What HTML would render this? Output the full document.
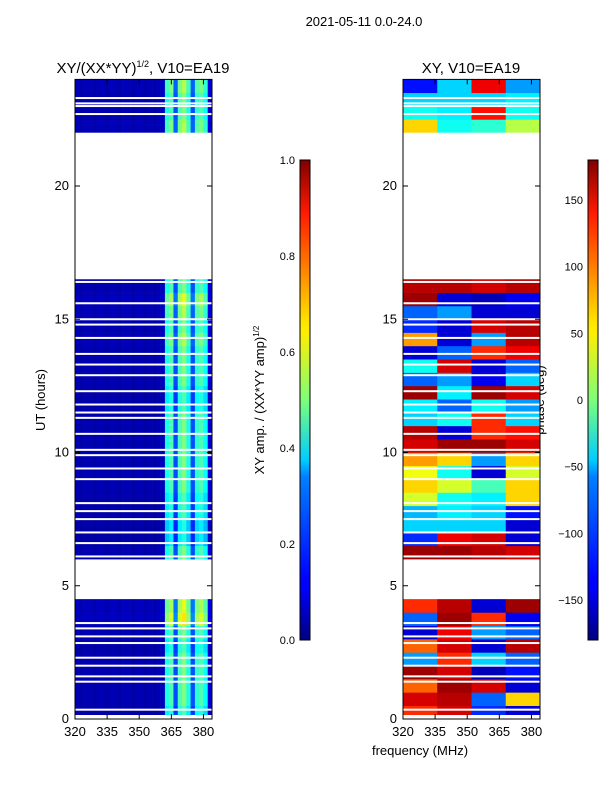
<!DOCTYPE html>
<html><head><meta charset="utf-8"><style>
body{margin:0;background:#fff;font-family:"Liberation Sans",sans-serif;}
svg text{font-family:"Liberation Sans",sans-serif;fill:#000;}
</style></head><body>
<svg id="fig" width="600" height="800" viewBox="0 0 600 800" xmlns="http://www.w3.org/2000/svg">
<text x="364" y="26" font-size="13" text-anchor="middle">2021-05-11 0.0-24.0</text>
<text x="143" y="73" font-size="15" text-anchor="middle">XY/(XX*YY)<tspan font-size="9" dy="-6">1/2</tspan><tspan dy="6">, V10=EA19</tspan></text>
<text x="471" y="73" font-size="15" text-anchor="middle">XY, V10=EA19</text>
<text x="420" y="755" font-size="13" text-anchor="middle">frequency (MHz)</text>
<text x="45" y="400" font-size="13" text-anchor="middle" transform="rotate(-90 45 400)">UT (hours)</text>
<text x="264" y="400" font-size="13" text-anchor="middle" transform="rotate(-90 264 400)">XY amp. / (XX*YY amp)<tspan font-size="8" dy="-5">1/2</tspan></text>
<text x="544" y="400" font-size="13" text-anchor="middle" transform="rotate(-90 544 400)">phase (deg)</text>
<g id="left"></g>
<g id="right"></g>
<g id="axes"></g>
<defs>
<linearGradient id="jet" x1="0" y1="1" x2="0" y2="0">
<stop offset="0" stop-color="#00007f"/><stop offset="0.11" stop-color="#0000ff"/><stop offset="0.125" stop-color="#0000ff"/><stop offset="0.34" stop-color="#0080ff"/><stop offset="0.375" stop-color="#00ccff"/><stop offset="0.5" stop-color="#7dff7a"/><stop offset="0.64" stop-color="#ffee00"/><stop offset="0.66" stop-color="#ffe600"/><stop offset="0.89" stop-color="#ff1a00"/><stop offset="1" stop-color="#7f0000"/>
</linearGradient>
</defs>
<rect x="300" y="160" width="10" height="480" fill="url(#jet)" stroke="#000" stroke-width="1"/>
<rect x="588" y="160" width="10" height="480" fill="url(#jet)" stroke="#000" stroke-width="1"/>
</svg>
<script>
// ---- data ----
const yTicks=[0,5,10,15,20];
const xTicks=[320,335,350,365,380];
const ampTicks=[0.0,0.2,0.4,0.6,0.8,1.0];
const phaseTicks=[-150,-100,-50,0,50,100,150];
// amplitude frequency profile, 2 MHz channels 320..384
const ampProfile=[0.05,0.04,0.05,0.05,0.04,0.05,0.05,0.04,0.05,0.05,0.04,0.05,0.05,0.04,0.05,0.05,0.04,0.05,0.04,0.05,0.06,0.4,0.45,0.2,0.45,0.5,0.4,0.2,0.42,0.45,0.38,0.08];
// half-hour time blocks 0..24h: null = flagged
const ampRowFactor=[0.9,1,1,1,1,0.9,1,1.3,1.2,null,null,null,1,0.8,0.8,0.9,0.9,1,1,1,1,1,1,0.9,0.9,1,1,1,1.1,1,1.1,1.2,1,null,null,null,null,null,null,null,null,null,null,null,1.1,1,1,1.1];
const phaseRows=[[120,150,-120,-150],[150,160,-100,60],[100,170,150,-150],[170,150,-160,-130],[-80,120,-60,-100],[100,150,-150,160],[-150,140,-80,-100],[-100,170,120,-140],[120,160,-150,170],null,null,null,[170,170,160,150],[-120,140,150,-150],[-60,-60,-60,-150],[-70,-50,-60,-130],[30,-40,-50,60],[60,30,-20,60],[40,-40,-150,30],[80,60,-80,60],[150,170,170,150],[160,-150,120,130],[-60,-40,120,-60],[-50,-100,-40,-80],[170,-50,170,150],[-100,-80,-140,-60],[-40,150,-150,-100],[-150,-100,120,140],[80,-150,-80,160],[-120,-150,150,160],[-100,-80,-150,-150],[170,-150,-160,-140],[160,160,150,160],null,null,null,null,null,null,null,null,null,null,null,[60,-40,-30,20],[-40,-50,130,-40],[-60,-60,-60,-50],[-130,-60,140,-80]];
// flagged intervals (hours)
const gaps=[[0,0.15],[4.5,5.9],[16.6,22.0]];
const flagLines=[0.35,1.4,1.6,2.0,2.3,2.85,3.1,3.4,3.6,6.1,6.6,7.0,7.5,7.8,8.1,9.0,9.4,9.9,10.1,10.7,11.3,11.5,11.8,12.3,12.9,13.3,13.7,14.3,14.8,15.0,15.6,16.4,22.7,23.0,23.1,23.3];
// ---- axes ----
const NS="http://www.w3.org/2000/svg";
const panels=[{x0:75,x1:212,g:'left'},{x0:403,x1:540,g:'right'}];
const yT=0,yB=24,py0=719,py1=79.4;
function yScale(h){return py0+(py1-py0)*(h-yT)/(yB-yT);}
function xScale(p,f){return p.x0+(p.x1-p.x0)*(f-320)/64;}
function jet(v){v=Math.max(0,Math.min(1,v));
 const r=Math.max(0,Math.min(1,1.5-Math.abs(4*v-3))),g=Math.max(0,Math.min(1,1.5-Math.abs(4*v-2))),b=Math.max(0,Math.min(1,1.5-Math.abs(4*v-1)));
 return `rgb(${Math.round(r*255)},${Math.round(g*255)},${Math.round(b*255)})`;}
function el(t,a,parent){const e=document.createElementNS(NS,t);for(const k in a)e.setAttribute(k,a[k]);parent.appendChild(e);return e;}
const L=document.getElementById('left'),R=document.getElementById('right'),A=document.getElementById('axes');
ampRowFactor.forEach((rf,ri)=>{if(rf===null)return;
 ampProfile.forEach((v,ci)=>{
  const x=xScale(panels[0],320+ci*2),w=xScale(panels[0],322+ci*2)-x;
  const y=yScale((ri+1)*0.5),h=yScale(ri*0.5)-y;
  const r=el('rect',{x:x,y:y,width:w+0.3,height:h+0.3,fill:jet(v*rf)},L);
  
  
 });});
phaseRows.forEach((row,ri)=>{if(row===null)return;
 row.forEach((v,ci)=>{
  const x=xScale(panels[1],320+ci*16),w=xScale(panels[1],336+ci*16)-x;
  const y=yScale((ri+1)*0.5),h=yScale(ri*0.5)-y;
  const r=el('rect',{x:x,y:y,width:w+0.3,height:h+0.3,fill:jet((v+180)/360)},R);
  
  
 });});
panels.forEach(p=>{
 const g=document.getElementById(p.g);
 gaps.forEach(gp=>{const r=el('rect',{x:p.x0,y:yScale(gp[1]),width:p.x1-p.x0,height:yScale(gp[0])-yScale(gp[1]),fill:'#fff'},g);
  
  });
 flagLines.forEach(t=>{const r=el('rect',{x:p.x0,y:yScale(t)-1,width:p.x1-p.x0,height:2,fill:'#fff'},g);
  
  });
 const fr=el('rect',{x:p.x0,y:py1,width:p.x1-p.x0,height:py0-py1,fill:'none',stroke:'#000','stroke-width':1},A);
 
 
 yTicks.forEach(t=>{const y=yScale(t);
  el('line',{x1:p.x0,x2:p.x0+5,y1:y,y2:y,stroke:'#000'},A);
  el('line',{x1:p.x1,x2:p.x1-5,y1:y,y2:y,stroke:'#000'},A);
  const tx=el('text',{x:p.x0-6,y:y+4,'font-size':13,'text-anchor':'end'},A);tx.textContent=t;
  
  });
 xTicks.forEach(t=>{const x=xScale(p,t);
  el('line',{x1:x,x2:x,y1:py0,y2:py0-5,stroke:'#000'},A);
  el('line',{x1:x,x2:x,y1:py1,y2:py1+5,stroke:'#000'},A);
  const tx=el('text',{x:x,y:py0+17,'font-size':13,'text-anchor':'middle'},A);tx.textContent=t;
  
  });
});
ampTicks.forEach(t=>{const y=640-480*t;
 el('line',{x1:300,x2:310,y1:y,y2:y,stroke:'#000'},A);
 const tx=el('text',{x:295,y:y+4,'font-size':11,'text-anchor':'end'},A);tx.textContent=t.toFixed(1);
 
 });
phaseTicks.forEach(t=>{const y=400-480*t/360;
 el('line',{x1:588,x2:598,y1:y,y2:y,stroke:'#000'},A);
 const tx=el('text',{x:583,y:y+4,'font-size':11,'text-anchor':'end'},A);tx.textContent=t<0?'\u2212'+(-t):t;
 
 });
</script>
</body></html>
